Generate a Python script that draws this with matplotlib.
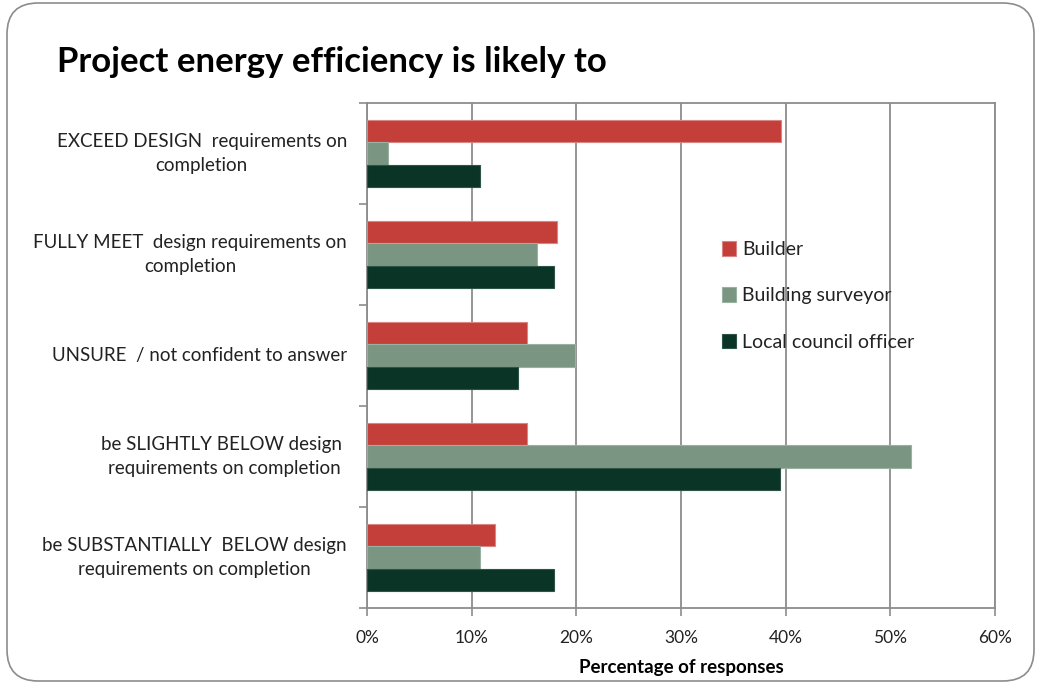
import numpy as np
import matplotlib
matplotlib.use("Agg")
import matplotlib.pyplot as plt
from matplotlib.patches import FancyBboxPatch

plt.rcParams['font.family'] = ['Lato', 'DejaVu Sans']

categories = [
    "EXCEED DESIGN  requirements on\ncompletion",
    "FULLY MEET  design requirements on\ncompletion",
    "UNSURE  / not confident to answer",
    "be SLIGHTLY BELOW design \nrequirements on completion",
    "be SUBSTANTIALLY  BELOW design\nrequirements on completion",
]
series = ["Builder", "Building surveyor", "Local council officer"]
builder = [39.6, 18.2, 15.3, 15.3, 12.2]
surveyor = [2.0, 16.2, 19.9, 52.0, 10.8]
council = [10.8, 17.9, 14.4, 39.5, 17.9]
xticks = [0, 10, 20, 30, 40, 50, 60]

colors = ["#C43E3A", "#7A9683", "#0A3526"]
edges = ["#D98583", "#9AB0A1", "#2E5446"]

W, H = 1039, 686
fig = plt.figure(figsize=(W / 100, H / 100), dpi=100)

# rounded chart border
border = FancyBboxPatch((7 / W, 5 / H), 1027 / W, 678 / H,
                        boxstyle="round,pad=0,rounding_size=0.03",
                        transform=fig.transFigure, fill=False,
                        edgecolor="#8C8C8C", linewidth=1.2,
                        mutation_aspect=W / H)
fig.patches.append(border)

ax = fig.add_axes([367 / W, 1 - 608 / H, 628 / W, 505 / H])

y = np.arange(len(categories))
h = 0.22
for i, (vals, c, e, name) in enumerate(zip([builder, surveyor, council], colors, edges, series)):
    ax.barh(y + (i - 1) * h, vals, height=h, color=c, edgecolor=e,
            linewidth=0.8, label=name, zorder=3)

ax.set_xlim(0, 60)
ax.set_ylim(len(categories) - 0.5, -0.5)
ax.set_xticks(xticks)
ax.set_xticklabels([f"{t}%" for t in xticks], fontsize=12.5, color="#222222")
ax.tick_params(axis="x", length=6, width=1.2, color="#8C8C8C", pad=10)
ax.grid(axis="x", color="#8C8C8C", linewidth=1.3, zorder=0)

# category labels between boundary ticks
ax.set_yticks(np.arange(len(categories) + 1) - 0.5)
ax.set_yticklabels([])
ax.tick_params(axis="y", length=6, width=1.2, color="#8C8C8C")
for yi, lab in zip(y, categories):
    ax.text(-20 / 628 * 60, yi, lab, ha="right", va="center",
            multialignment="center", fontsize=13.5, color="#222222",
            linespacing=1.5)

for s in ax.spines.values():
    s.set_color("#8C8C8C")
    s.set_linewidth(1.3)

ax.set_xlabel("Percentage of responses", fontsize=13.5, fontweight="bold",
              labelpad=9)

leg = ax.legend(loc="upper left", bbox_to_anchor=(347 / 628, 1 - 130 / 505),
                frameon=False, fontsize=14, handlelength=0.75,
                handleheight=0.8, handletextpad=0.3, labelspacing=1.5,
                borderaxespad=0)
leg.set_zorder(5)
for t in leg.get_texts():
    t.set_color("#222222")

fig.text(57 / W, 1 - 62 / H, "Project energy efficiency is likely to",
         fontsize=25, fontweight="bold", ha="left", va="center")

fig.savefig("out.png", dpi=100)
